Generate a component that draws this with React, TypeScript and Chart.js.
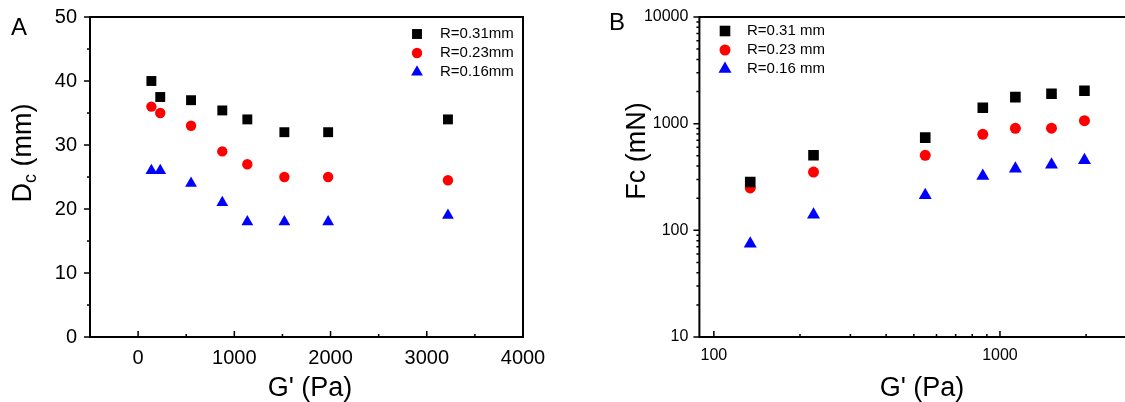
import React, { useEffect, useRef } from "react";
import { Chart, registerables } from "chart.js";

Chart.register(...registerables);

// ---------- Panel A data ----------
const gPrimeA = [138, 230, 550, 875, 1135, 1520, 1975, 3220];
const dcR031 = [40, 37.5, 37, 35.4, 34, 32, 32, 34];
const dcR023 = [36, 35, 33, 29, 27, 25, 25, 24.5];
const dcR016 = [26, 26, 24, 21, 18, 18, 18, 19];

// ---------- Panel B data ----------
const gPrimeB = [134, 223, 548, 871, 1132, 1514, 1974];
const fcR031 = [284, 505, 740, 1412, 1774, 1909, 2037];
const fcR023 = [250, 352, 505, 795, 904, 907, 1067];
const fcR016 = [75, 140, 213, 323, 378, 412, 453];

// ---------- labels & ticks ----------
const seriesLabelsA = ["R=0.31mm", "R=0.23mm", "R=0.16mm"];
const seriesLabelsB = ["R=0.31 mm", "R=0.23 mm", "R=0.16 mm"];
const seriesColors = ["#000000", "#ff0000", "#0000ff"];
const seriesShapes = ["rect", "circle", "triangle"];

const xTicksA = [0, 1000, 2000, 3000, 4000];
const xMinorA = [500, 1500, 2500, 3500];
const yTicksA = [0, 10, 20, 30, 40, 50];
const yMinorA = [5, 15, 25, 35, 45];

const xTicksB = [100, 1000];
const xMinorB = [200, 300, 400, 500, 600, 700, 800, 900, 2000, 3000];
const yTicksB = [10, 100, 1000, 10000];
const yMinorB = [20, 30, 40, 50, 60, 70, 80, 90, 200, 300, 400, 500, 600, 700, 800, 900, 2000, 3000, 4000, 5000, 6000, 7000, 8000, 9000];

const FONT = "'Liberation Sans', Arial, Helvetica, sans-serif";

type Part = { text: string; sub?: boolean };
type PanelCfg = {
  offsetX: number;
  letter: string;
  letterX: number;
  letterY: number;
  yTitle: Part[];
  yTitleX: number;
  yTitleY: number;
  xTitle: string;
  xTitleX: number;
  xTitleY: number;
  legendLabels: string[];
  legendMarkerX: number;
  legendTextX: number;
  legendRows: number[];
  legendRadii: number[];
  xMajor: number[];
  xMinor: number[];
  yMajor: number[];
  yMinor: number[];
};

function makePlugin(cfg: PanelCfg) {
  return {
    id: "panelDecor" + cfg.letter,
    afterDraw(chart: any) {
      const ctx = chart.ctx as CanvasRenderingContext2D;
      const area = chart.chartArea;
      const xs = chart.scales.x;
      const ys = chart.scales.y;
      const ox = cfg.offsetX;
      ctx.save();
      // frame
      ctx.strokeStyle = "#000";
      ctx.lineWidth = 2;
      ctx.strokeRect(area.left, area.top, area.right - area.left, area.bottom - area.top);
      // x ticks (inward)
      ctx.lineWidth = 1.5;
      ctx.beginPath();
      cfg.xMajor.forEach((v) => {
        const px = xs.getPixelForValue(v);
        ctx.moveTo(px, area.bottom);
        ctx.lineTo(px, area.bottom - 6);
      });
      cfg.xMinor.forEach((v) => {
        const px = xs.getPixelForValue(v);
        ctx.moveTo(px, area.bottom);
        ctx.lineTo(px, area.bottom - 3);
      });
      // y ticks (outward)
      cfg.yMajor.forEach((v) => {
        const py = ys.getPixelForValue(v);
        ctx.moveTo(area.left, py);
        ctx.lineTo(area.left - 6, py);
      });
      cfg.yMinor.forEach((v) => {
        const py = ys.getPixelForValue(v);
        ctx.moveTo(area.left, py);
        ctx.lineTo(area.left - 3, py);
      });
      ctx.stroke();

      // panel letter
      ctx.fillStyle = "#000";
      ctx.font = `24px ${FONT}`;
      ctx.textAlign = "left";
      ctx.textBaseline = "alphabetic";
      ctx.fillText(cfg.letter, cfg.letterX - ox, cfg.letterY);

      // x title
      ctx.font = `27px ${FONT}`;
      ctx.textAlign = "center";
      ctx.fillText(cfg.xTitle, cfg.xTitleX - ox, cfg.xTitleY);

      // y title (rotated, with optional subscript)
      ctx.save();
      ctx.translate(cfg.yTitleX - ox, cfg.yTitleY);
      ctx.rotate(-Math.PI / 2);
      ctx.textAlign = "left";
      let total = 0;
      const widths = cfg.yTitle.map((p) => {
        ctx.font = p.sub ? `18px ${FONT}` : `27px ${FONT}`;
        const w = ctx.measureText(p.text).width;
        total += w;
        return w;
      });
      let cx = -total / 2;
      cfg.yTitle.forEach((p, i) => {
        ctx.font = p.sub ? `18px ${FONT}` : `27px ${FONT}`;
        ctx.fillText(p.text, cx, p.sub ? 5 : 0);
        cx += widths[i];
      });
      ctx.restore();

      // legend
      cfg.legendLabels.forEach((lab, i) => {
        const y = cfg.legendRows[i];
        const mx = cfg.legendMarkerX - ox;
        ctx.fillStyle = seriesColors[i];
        const r = cfg.legendRadii[i];
        ctx.beginPath();
        if (seriesShapes[i] === "rect") {
          const s = Math.SQRT1_2 * r;
          ctx.rect(mx - s, y - s, 2 * s, 2 * s);
        } else if (seriesShapes[i] === "circle") {
          ctx.arc(mx, y, r, 0, Math.PI * 2);
        } else {
          ctx.moveTo(mx, y - r);
          ctx.lineTo(mx + r * Math.sin((2 * Math.PI) / 3), y + r * 0.5);
          ctx.lineTo(mx - r * Math.sin((2 * Math.PI) / 3), y + r * 0.5);
          ctx.closePath();
        }
        ctx.fill();
        ctx.fillStyle = "#000";
        ctx.font = `15px ${FONT}`;
        ctx.textAlign = "left";
        ctx.textBaseline = "middle";
        ctx.fillText(lab, cfg.legendTextX - ox, y);
        ctx.textBaseline = "alphabetic";
      });
      ctx.restore();
    },
  };
}

function makeDatasets(xv: number[], series: number[][], labels: string[], radii: number[]) {
  return series.map((ys, i) => ({
    label: labels[i],
    data: xv.map((x, j) => ({ x, y: ys[j] })),
    pointStyle: seriesShapes[i],
    pointRadius: radii[i],
    pointHoverRadius: radii[i],
    backgroundColor: seriesColors[i],
    borderColor: seriesColors[i],
    borderWidth: 0,
    showLine: false,
  }));
}

const radiiA = [7, 5.2, 6.8];
const radiiB = [7.5, 5.5, 7.5];

function PanelA() {
  const ref = useRef<HTMLCanvasElement | null>(null);
  useEffect(() => {
    if (!ref.current) return;
    const cfg: PanelCfg = {
      offsetX: 0,
      letter: "A",
      letterX: 11,
      letterY: 35,
      yTitle: [{ text: "D" }, { text: "c", sub: true }, { text: " (mm)" }],
      yTitleX: 31,
      yTitleY: 153,
      xTitle: "G' (Pa)",
      xTitleX: 310,
      xTitleY: 396,
      legendLabels: seriesLabelsA,
      legendMarkerX: 417,
      legendTextX: 440,
      legendRows: [34, 53, 72],
      legendRadii: radiiA,
      xMajor: xTicksA,
      xMinor: xMinorA,
      yMajor: yTicksA,
      yMinor: yMinorA,
    };
    const chart = new Chart(ref.current, {
      type: "scatter",
      data: { datasets: makeDatasets(gPrimeA, [dcR031, dcR023, dcR016], seriesLabelsA, radiiA) as any },
      options: {
        responsive: false,
        animation: false,
        layout: { padding: { left: 0, right: 37, top: 17, bottom: 0 } },
        plugins: { legend: { display: false }, tooltip: { enabled: false } },
        scales: {
          x: {
            type: "linear",
            min: -500,
            max: 4000,
            grid: { display: false, drawTicks: false },
            border: { display: false },
            afterBuildTicks: (s: any) => {
              s.ticks = xTicksA.map((v) => ({ value: v }));
            },
            afterFit: (s: any) => {
              s.height = 65;
              s.paddingLeft = 0;
              s.paddingRight = 0;
            },
            ticks: {
              autoSkip: false,
              maxRotation: 0,
              padding: 9,
              color: "#000",
              font: { family: FONT, size: 20 },
              callback: (v: any) => String(v),
            },
          },
          y: {
            type: "linear",
            min: 0,
            max: 50,
            grid: { display: false, drawTicks: false },
            border: { display: false },
            afterBuildTicks: (s: any) => {
              s.ticks = yTicksA.map((v) => ({ value: v }));
            },
            afterFit: (s: any) => {
              s.width = 90;
              s.paddingTop = 0;
              s.paddingBottom = 0;
            },
            ticks: {
              autoSkip: false,
              padding: 13,
              color: "#000",
              font: { family: FONT, size: 20 },
              callback: (v: any) => String(v),
            },
          },
        },
      },
      plugins: [makePlugin(cfg)],
    });
    return () => chart.destroy();
  }, []);
  return <canvas ref={ref} width={560} height={402} style={{ width: 560, height: 402, display: "block" }} />;
}

function PanelB() {
  const ref = useRef<HTMLCanvasElement | null>(null);
  useEffect(() => {
    if (!ref.current) return;
    const cfg: PanelCfg = {
      offsetX: 560,
      letter: "B",
      letterX: 609,
      letterY: 30,
      yTitle: [{ text: "Fc (mN)" }],
      yTitleX: 645,
      yTitleY: 151,
      xTitle: "G' (Pa)",
      xTitleX: 922,
      xTitleY: 396,
      legendLabels: seriesLabelsB,
      legendMarkerX: 725,
      legendTextX: 747,
      legendRows: [31, 50, 69],
      legendRadii: radiiB,
      xMajor: xTicksB,
      xMinor: xMinorB,
      yMajor: yTicksB,
      yMinor: yMinorB,
    };
    const chart = new Chart(ref.current, {
      type: "scatter",
      data: { datasets: makeDatasets(gPrimeB, [fcR031, fcR023, fcR016], seriesLabelsB, radiiB) as any },
      options: {
        responsive: false,
        animation: false,
        layout: { padding: { left: 0, right: 57, top: 17, bottom: 0 } },
        plugins: { legend: { display: false }, tooltip: { enabled: false } },
        scales: {
          x: {
            type: "logarithmic",
            min: 89,
            max: 3162,
            grid: { display: false, drawTicks: false },
            border: { display: false },
            afterBuildTicks: (s: any) => {
              s.ticks = xTicksB.map((v) => ({ value: v }));
            },
            afterFit: (s: any) => {
              s.height = 65;
              s.paddingLeft = 0;
              s.paddingRight = 0;
            },
            ticks: {
              autoSkip: false,
              maxRotation: 0,
              padding: 9,
              color: "#000",
              font: { family: FONT, size: 16 },
              callback: (v: any) => String(v),
            },
          },
          y: {
            type: "logarithmic",
            min: 10,
            max: 10000,
            grid: { display: false, drawTicks: false },
            border: { display: false },
            afterBuildTicks: (s: any) => {
              s.ticks = yTicksB.map((v) => ({ value: v }));
            },
            afterFit: (s: any) => {
              s.width = 139.4;
              s.paddingTop = 0;
              s.paddingBottom = 0;
            },
            ticks: {
              autoSkip: false,
              padding: 11,
              color: "#000",
              font: { family: FONT, size: 16 },
              callback: (v: any) => String(v),
            },
          },
        },
      },
      plugins: [makePlugin(cfg)],
    });
    return () => chart.destroy();
  }, []);
  return <canvas ref={ref} width={640} height={402} style={{ width: 640, height: 402, display: "block" }} />;
}

export default function App() {
  return (
    <div
      style={{
        position: "fixed",
        left: 0,
        top: 0,
        width: 1125,
        height: 402,
        overflow: "hidden",
        background: "#fff",
      }}
    >
      <div style={{ position: "absolute", left: 0, top: 0, width: 560, height: 402 }}>
        <PanelA />
      </div>
      <div style={{ position: "absolute", left: 560, top: 0, width: 640, height: 402 }}>
        <PanelB />
      </div>
    </div>
  );
}
